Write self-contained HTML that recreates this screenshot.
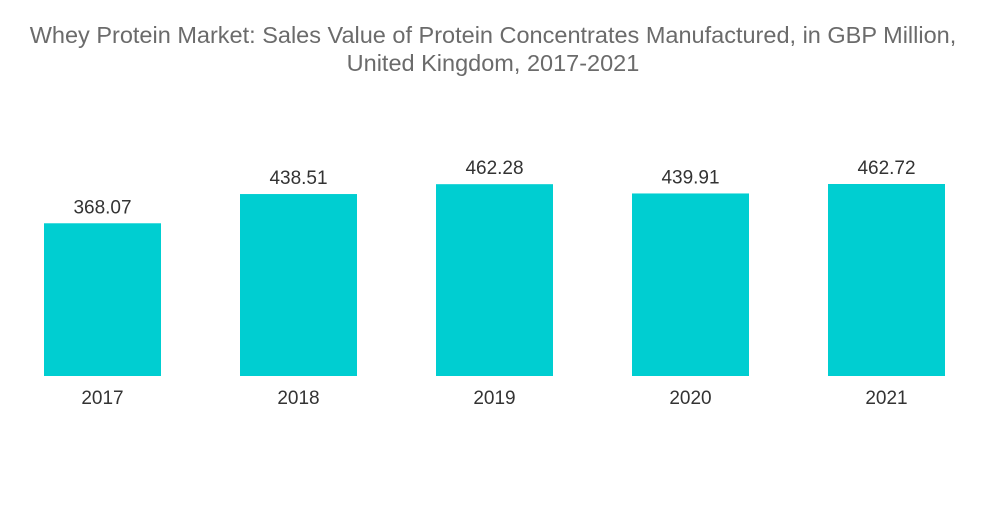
<!DOCTYPE html>
<html><head><meta charset="utf-8"><style>
body{margin:0;background:#fff;width:1000px;height:504px;overflow:hidden;font-family:"Liberation Sans",sans-serif}
</style></head><body>
<svg id="chart" width="1000" height="504">
<text x="493" y="43" text-anchor="middle" font-size="23.5" fill="#6b6b6b">Whey Protein Market: Sales Value of Protein Concentrates Manufactured, in GBP Million,</text>
<text x="493" y="71" text-anchor="middle" font-size="23.5" fill="#6b6b6b">United Kingdom, 2017-2021</text>
<g id="bars"></g>
</svg>
<script>
const categories=["2017","2018","2019","2020","2021"];
const values=[368.07,438.51,462.28,439.91,462.72];
const labels=["368.07","438.51","462.28","439.91","462.72"];
const baseY=376, scale=192/462.72, x0=44, step=196, bw=117;
const y=v=>baseY-v*scale;
const xs=i=>x0+i*step;
const g=document.getElementById('bars');
const NS='http://www.w3.org/2000/svg';
categories.forEach((c,i)=>{
  const r=document.createElementNS(NS,'rect');
  r.setAttribute('x',xs(i));r.setAttribute('y',y(values[i]));
  r.setAttribute('width',bw);r.setAttribute('height',baseY-y(values[i]));
  r.setAttribute('fill','#00ced1');
  
  
  g.appendChild(r);
  const t=document.createElementNS(NS,'text');
  t.setAttribute('x',xs(i)+bw/2);t.setAttribute('y',y(values[i])-10);
  t.setAttribute('text-anchor','middle');t.setAttribute('font-size','19');t.setAttribute('fill','#333');
  t.textContent=labels[i];
  
  
  g.appendChild(t);
  const a=document.createElementNS(NS,'text');
  a.setAttribute('x',xs(i)+bw/2);a.setAttribute('y',404);
  a.setAttribute('text-anchor','middle');a.setAttribute('font-size','19');a.setAttribute('fill','#333');
  a.textContent=c;
  
  
  g.appendChild(a);
});
</script>
</body></html>
